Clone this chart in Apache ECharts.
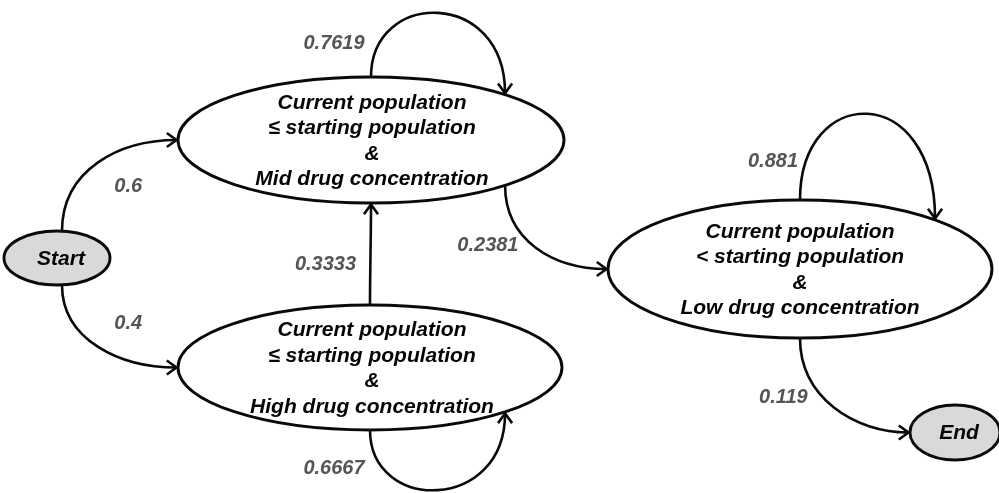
<!DOCTYPE html>
<html>
<head>
<meta charset="utf-8">
<script src="https://cdn.jsdelivr.net/npm/echarts@6/dist/echarts.min.js"></script>
<style>
  html, body { margin: 0; padding: 0; background: #ffffff; }
  #chart { width: 999px; height: 493px; }
</style>
</head>
<body>
<div id="chart"></div>
<script>
// ---------------- DATA ----------------
var stateIds = ['start', 'mid', 'high', 'low', 'end'];
var stateLabels = [
  'Start',
  'Current population\n\u2264 starting population\n&\nMid drug concentration',
  'Current population\n\u2264 starting population\n&\nHigh drug concentration',
  'Current population\n< starting population\n&\nLow drug concentration',
  'End'
];
var transitionFrom = ['start', 'start', 'mid', 'mid', 'high', 'high', 'low', 'low'];
var transitionTo   = ['mid', 'high', 'mid', 'low', 'high', 'mid', 'low', 'end'];
var transitionProb = [0.6, 0.4, 0.7619, 0.2381, 0.6667, 0.3333, 0.881, 0.119];

// ---------------- LAYOUT (positions / sizes / styles) ----------------
var nodeLayout = {
  start: { cx: 57,  cy: 258,   rx: 53,  ry: 27,   fill: '#d9d9d9', tdx: 4 },
  mid:   { cx: 371, cy: 140,   rx: 193, ry: 63,   fill: '#ffffff', tdx: 1 },
  high:  { cx: 370, cy: 367.5, rx: 192, ry: 62.5, fill: '#ffffff', tdx: 2 },
  low:   { cx: 800, cy: 269,   rx: 192, ry: 69,   fill: '#ffffff', tdx: 0 },
  end:   { cx: 955, cy: 432.5, rx: 45,  ry: 27.5, fill: '#d9d9d9', tdx: 4 }
};
// out/in: angle on the ellipse (deg, screen coords); c1: offset from start; c2: offset from end; lab: offset from curve midpoint
var edgeRouting = {
  'start>mid':  { out: -84.6, inn: 180,   c1: [0, -62],  c2: [-58, 0],  lab: [30, 24] },
  'start>high': { out: 84.6,  inn: 180,   c1: [0, 55],   c2: [-58, 0],  lab: [30, -23] },
  'mid>mid':    { out: -90,   inn: -46,   c1: [0, -88],  c2: [0, -106], lab: [-104, 30] },
  'mid>low':    { out: 46,    inn: 180,   c1: [0, 55],   c2: [-55, 0],  lab: [-48, -2] },
  'high>high':  { out: 90,    inn: 45.3,  c1: [0, 83],   c2: [0, 101],  lab: [-103.5, -21] },
  'high>mid':   { out: -90,   inn: 90,    c1: [0, -34],  c2: [0, 34],   lab: [-45, 10] },
  'low>low':    { out: -90,   inn: -45.3, c1: [0, -117], c2: [0, -139], lab: [-94.5, 48] },
  'low>end':    { out: 90,    inn: 180,   c1: [0, 60],   c2: [-55, 0],  lab: [-51, -10] }
};

var FONT = '"Liberation Sans", Arial, sans-serif';
var LINE = '#0a0a0a';

function anchor(L, deg) {
  var r = deg * Math.PI / 180;
  return [L.cx + L.rx * Math.cos(r), L.cy + L.ry * Math.sin(r)];
}

var chart = echarts.init(document.getElementById('chart'), null, { renderer: 'canvas' });

var option = {
  animation: false,
  backgroundColor: '#ffffff',
  grid: { left: 0, right: 0, top: 0, bottom: 0 },
  xAxis: { type: 'value', min: 0, max: 999, show: false },
  yAxis: { type: 'value', min: 0, max: 493, inverse: true, show: false },
  series: [
    {
      type: 'custom',
      name: 'states',
      coordinateSystem: 'cartesian2d',
      data: stateIds.map(function (id) { return [nodeLayout[id].cx, nodeLayout[id].cy]; }),
      z: 2,
      renderItem: function (params, api) {
        var i = params.dataIndex;
        var L = nodeLayout[stateIds[i]];
        var c = api.coord([api.value(0), api.value(1)]);
        var s = api.size([L.rx, L.ry]);
        return {
          type: 'group',
          children: [
            {
              type: 'ellipse',
              shape: { cx: c[0], cy: c[1], rx: Math.abs(s[0]), ry: Math.abs(s[1]) },
              style: { fill: L.fill, stroke: LINE, lineWidth: 2.9 }
            },
            {
              type: 'text',
              x: c[0] + L.tdx,
              y: c[1] + 1,
              style: {
                text: stateLabels[i],
                fill: '#050505',
                fontFamily: FONT,
                fontSize: 21,
                fontWeight: 'bold',
                fontStyle: 'italic',
                align: 'center',
                verticalAlign: 'middle',
                lineHeight: 25.5
              }
            }
          ]
        };
      }
    },
    {
      type: 'custom',
      name: 'transitions',
      coordinateSystem: 'cartesian2d',
      data: transitionProb.map(function (p, i) { return [i, p]; }),
      z: 3,
      renderItem: function (params, api) {
        var i = params.dataIndex;
        var from = nodeLayout[transitionFrom[i]];
        var to = nodeLayout[transitionTo[i]];
        var R = edgeRouting[transitionFrom[i] + '>' + transitionTo[i]];
        var a0 = anchor(from, R.out);
        var a3 = anchor(to, R.inn);
        var a1 = [a0[0] + R.c1[0], a0[1] + R.c1[1]];
        var a2 = [a3[0] + R.c2[0], a3[1] + R.c2[1]];
        var p0 = api.coord(a0), p1 = api.coord(a1), p2 = api.coord(a2), p3 = api.coord(a3);
        // arrow head
        var dx = p3[0] - p2[0], dy = p3[1] - p2[1];
        var len = Math.sqrt(dx * dx + dy * dy) || 1;
        var ux = dx / len, uy = dy / len;
        var al = 12, ang = 36 * Math.PI / 180;
        function rot(x, y, t) { return [x * Math.cos(t) - y * Math.sin(t), x * Math.sin(t) + y * Math.cos(t)]; }
        var w1 = rot(-ux, -uy, ang), w2 = rot(-ux, -uy, -ang);
        var tip = [p3[0] - ux * 1.5, p3[1] - uy * 1.5];
        // midpoint of curve
        var mx = (p0[0] + 3 * p1[0] + 3 * p2[0] + p3[0]) / 8;
        var my = (p0[1] + 3 * p1[1] + 3 * p2[1] + p3[1]) / 8;
        return {
          type: 'group',
          children: [
            {
              type: 'bezierCurve',
              shape: { x1: p0[0], y1: p0[1], cpx1: p1[0], cpy1: p1[1], cpx2: p2[0], cpy2: p2[1], x2: tip[0], y2: tip[1] },
              style: { fill: 'none', stroke: LINE, lineWidth: 2.6 }
            },
            {
              type: 'polyline',
              shape: { points: [[tip[0] + w1[0] * al, tip[1] + w1[1] * al], tip, [tip[0] + w2[0] * al, tip[1] + w2[1] * al]] },
              style: { fill: 'none', stroke: LINE, lineWidth: 2.6, lineJoin: 'miter' }
            },
            {
              type: 'text',
              x: mx + R.lab[0],
              y: my + R.lab[1],
              style: {
                text: String(api.value(1)),
                fill: '#555555',
                fontFamily: FONT,
                fontSize: 20,
                fontWeight: 'bold',
                fontStyle: 'italic',
                align: 'center',
                verticalAlign: 'middle'
              }
            }
          ]
        };
      }
    }
  ]
};
chart.setOption(option);
</script>
</body>
</html>
